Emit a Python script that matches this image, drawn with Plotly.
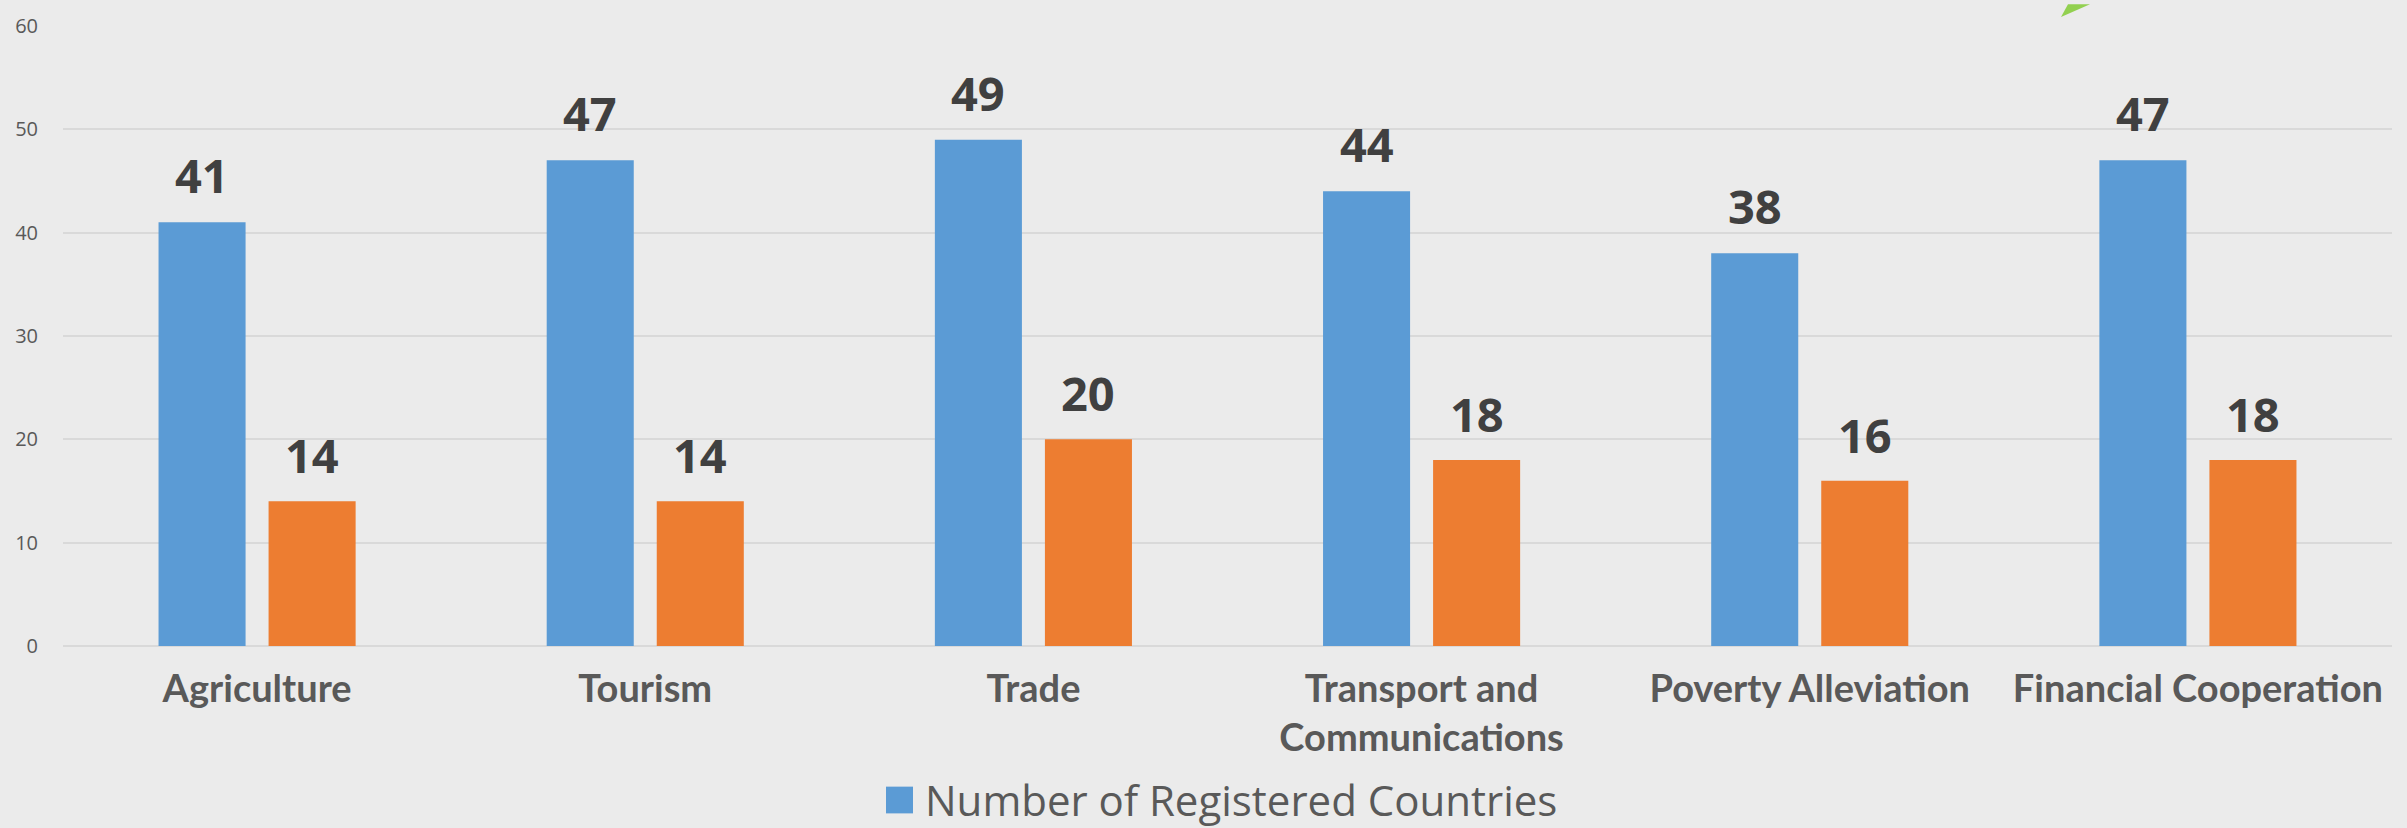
import plotly.graph_objects as go

categories = ["Agriculture", "Tourism", "Trade", "Transport and<br>Communications",
              "Poverty Alleviation", "Financial Cooperation"]
registered_countries = [41, 47, 49, 44, 38, 47]
second_series = [14, 14, 20, 18, 16, 18]
y_ticks = [0, 10, 20, 30, 40, 50, 60]
legend_label = "Number of Registered Countries"

BLUE = "#5B9BD5"
ORANGE = "#ED7D31"
BG = "#EBEBEB"
GRID = "#D9D9D9"
TXT = "#595959"
LBL = "#404040"

fig = go.Figure()
fig.add_trace(go.Bar(x=categories, y=registered_countries, name=legend_label, showlegend=False,
                     marker=dict(color=BLUE, line=dict(width=0))))
fig.add_trace(go.Bar(x=categories, y=second_series, name="Number of Projects", showlegend=False,
                     marker=dict(color=ORANGE, line=dict(width=0))))

for c, v in zip(categories, registered_countries):
    fig.add_annotation(x=c, y=v, text=str(v), showarrow=False, xanchor="center", yanchor="bottom",
                       xshift=-55, yshift=13,
                       font=dict(family="Open Sans", size=47, color=LBL, weight="bold"))
for c, v in zip(categories, second_series):
    fig.add_annotation(x=c, y=v, text=str(v), showarrow=False, xanchor="center", yanchor="bottom",
                       xshift=55, yshift=12,
                       font=dict(family="Open Sans", size=47, color=LBL, weight="bold"))

W, H = 2407, 828
ml, mr, mt, mb = 63, 15, 20, 182
pw, ph = W - ml - mr, H - mt - mb
def px(x):
    return (x - ml) / pw
def py(y):
    return (H - mb - y) / ph

# legend: swatch + label
fig.add_shape(type="rect", xref="paper", yref="paper",
              x0=px(886), x1=px(913), y0=py(815), y1=py(788),
              fillcolor=BLUE, line=dict(width=0))
fig.add_annotation(xref="paper", yref="paper", x=px(923), y=py(801), text=legend_label,
                   showarrow=False, xanchor="left", yanchor="middle",
                   font=dict(family="Open Sans", size=42, color=TXT))

# decorative green arrow tip cropped at top edge
fig.add_shape(type="path", xref="paper", yref="paper",
              path=f"M {px(2061)} {py(11)} L {px(2068)} {py(-2)} L {px(2090)} {py(-2)} Z",
              fillcolor="#92D050", line=dict(width=0), layer="above")

fig.update_layout(
    width=W, height=H,
    paper_bgcolor=BG, plot_bgcolor=BG,
    margin=dict(l=ml, r=mr, t=mt, b=mb),
    barmode="group", bargap=0.433, bargroupgap=0.209,
    showlegend=False,
    xaxis=dict(showgrid=False, showline=False, zeroline=False,
               tickfont=dict(family="Lato", size=38, color=TXT, weight="bold"),
               ticks="outside", ticklen=9, tickcolor="rgba(0,0,0,0)"),
    yaxis=dict(range=[0, 60], tickvals=y_ticks, showgrid=True, gridcolor=GRID, gridwidth=2,
               zeroline=True, zerolinecolor=GRID, zerolinewidth=2, showline=False,
               tickfont=dict(family="Open Sans", size=20, color=TXT),
               ticks="outside", ticklen=20, tickcolor="rgba(0,0,0,0)"),
)

fig.write_html("out.html", config={"displayModeBar": False},
               post_script="document.body.style.margin='0';document.body.style.overflow='hidden';")
